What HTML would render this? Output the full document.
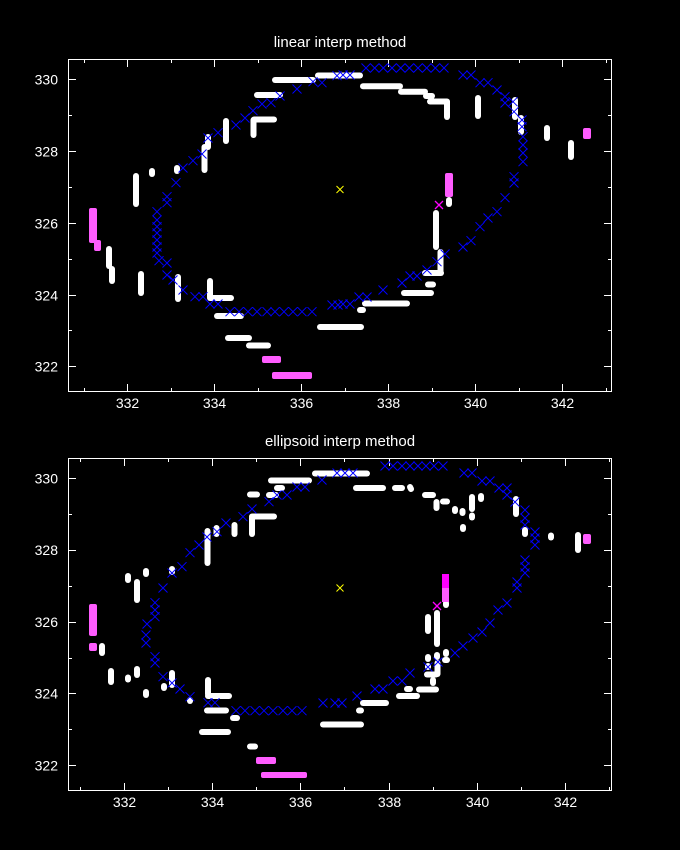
<!DOCTYPE html>
<html><head><meta charset="utf-8"><style>
html,body{margin:0;padding:0;background:#000;}
svg{display:block;}
text{font-family:"Liberation Sans",sans-serif;fill:#fff;}
</style></head><body>
<svg width="680" height="850" viewBox="0 0 680 850" xmlns="http://www.w3.org/2000/svg">
<defs>
<path id="bx" d="M-4.5,-4.5L4.5,4.5M4.5,-4.5L-4.5,4.5" stroke="#0000ff" stroke-width="1" fill="none"/>
<path id="mx" d="M-4,-4L4,4M4,-4L-4,4" stroke="#ff00ff" stroke-width="1.3" fill="none"/>
<path id="yx" d="M-3.5,-3.5L3.5,3.5M3.5,-3.5L-3.5,3.5" stroke="#ffff00" stroke-width="1" fill="none"/>
</defs>
<rect width="680" height="850" fill="#000"/>

<!-- ================= TOP PLOT ================= -->
<text x="340" y="47" font-size="15" text-anchor="middle">linear interp method</text>
<g stroke="#fff" stroke-width="1" fill="none" shape-rendering="crispEdges">
<rect x="68.5" y="59.5" width="543" height="332"/>
<path d="M127.5,391V384M214.5,391V384M301.5,391V384M388.5,391V384M475.5,391V384M562.5,391V384M127.5,60V67M214.5,60V67M301.5,60V67M388.5,60V67M475.5,60V67M562.5,60V67"/>
<path d="M84.5,391V388M171.5,391V388M258.5,391V388M345.5,391V388M432.5,391V388M519.5,391V388M606.5,391V388M84.5,60V63M171.5,60V63M258.5,60V63M345.5,60V63M432.5,60V63M519.5,60V63M606.5,60V63"/>
<path d="M69,79.5H76M69,151.5H76M69,223.5H76M69,295.5H76M69,366.5H76M611,79.5H604M611,151.5H604M611,223.5H604M611,295.5H604M611,366.5H604"/>
<path d="M69,115.5H72M69,187.5H72M69,259.5H72M69,330.5H72M611,115.5H608M611,187.5H608M611,259.5H608M611,330.5H608"/>
</g>
<g font-size="14" text-anchor="end">
<text x="58" y="84.5">330</text><text x="58" y="156.5">328</text><text x="58" y="228.5">326</text><text x="58" y="300.5">324</text><text x="58" y="371.5">322</text>
</g>
<g font-size="14" text-anchor="middle">
<text x="127.5" y="408">332</text><text x="214.5" y="408">334</text><text x="301.5" y="408">336</text><text x="388.5" y="408">338</text><text x="475.5" y="408">340</text><text x="562.5" y="408">342</text>
</g>

<g stroke="#fff" stroke-width="6" stroke-linecap="round" fill="none">
<line x1="275" y1="80" x2="313" y2="80"/>
<line x1="318" y1="75.5" x2="360" y2="75.5"/>
<line x1="363" y1="86.3" x2="400" y2="86.3"/>
<line x1="401" y1="91.8" x2="425" y2="91.8"/>
<line x1="426" y1="96" x2="432" y2="96"/>
<line x1="430" y1="101.5" x2="447" y2="101.5"/>
<line x1="447" y1="102" x2="447" y2="117"/>
<line x1="478" y1="98" x2="478" y2="116"/>
<line x1="515" y1="100" x2="515" y2="117"/>
<line x1="521" y1="118" x2="521" y2="132"/>
<line x1="547" y1="128" x2="547" y2="138"/>
<line x1="571" y1="143" x2="571" y2="157"/>
<line x1="257" y1="95" x2="280" y2="95"/>
<line x1="253.5" y1="120" x2="253.5" y2="135"/>
<line x1="254" y1="119.5" x2="274" y2="119.5"/>
<line x1="226" y1="121" x2="226" y2="141"/>
<line x1="208" y1="137" x2="208" y2="147"/>
<line x1="204.5" y1="147" x2="204.5" y2="170"/>
<line x1="177" y1="168" x2="177" y2="171"/>
<line x1="152" y1="171" x2="152" y2="174"/>
<line x1="136" y1="176" x2="136" y2="204"/>
<line x1="109" y1="249" x2="109" y2="266"/>
<line x1="112" y1="269" x2="112" y2="281"/>
<line x1="141" y1="274" x2="141" y2="293"/>
<line x1="178" y1="277" x2="178" y2="299"/>
<line x1="210" y1="281" x2="210" y2="297"/>
<line x1="210" y1="298" x2="231" y2="298"/>
<line x1="217" y1="316" x2="241" y2="316"/>
<line x1="228" y1="338" x2="249" y2="338"/>
<line x1="249" y1="345.5" x2="268" y2="345.5"/>
<line x1="320" y1="327" x2="361" y2="327"/>
<line x1="436" y1="213" x2="436" y2="247"/>
<line x1="440.5" y1="252" x2="440.5" y2="272"/>
<line x1="425" y1="273" x2="441" y2="273"/>
<line x1="428" y1="284.5" x2="433" y2="284.5"/>
<line x1="404" y1="293" x2="431" y2="293"/>
<line x1="365" y1="303.5" x2="407" y2="303.5"/>
<line x1="360" y1="310" x2="363" y2="310"/>
<line x1="449" y1="200" x2="449" y2="204"/>
</g>
<g fill="#ff5cff">
<rect x="89" y="208" width="8" height="35" rx="2"/>
<rect x="94" y="240" width="7" height="11" rx="2"/>
<rect x="262" y="356" width="19" height="7" rx="2"/>
<rect x="272" y="372" width="40" height="7" rx="2"/>
<rect x="445" y="173" width="8" height="24" rx="2"/>
<rect x="583" y="128" width="8" height="11" rx="2"/>
</g>
<use href="#mx" x="439" y="205"/>
<g>
<use href="#bx" x="313" y="81.7"/><use href="#bx" x="322" y="82.7"/><use href="#bx" x="297" y="89"/><use href="#bx" x="280" y="96"/>
<use href="#bx" x="271" y="102.7"/><use href="#bx" x="262" y="104"/><use href="#bx" x="253" y="110.7"/><use href="#bx" x="245" y="118"/>
<use href="#bx" x="236" y="125"/><use href="#bx" x="218" y="132.7"/><use href="#bx" x="208" y="138"/><use href="#bx" x="202" y="154"/>
<use href="#bx" x="193" y="160.7"/><use href="#bx" x="183" y="168"/><use href="#bx" x="176" y="182.7"/><use href="#bx" x="167" y="196.7"/>
<use href="#bx" x="167" y="202.7"/><use href="#bx" x="157" y="211.7"/><use href="#bx" x="157" y="220"/><use href="#bx" x="157" y="226.7"/>
<use href="#bx" x="157" y="233"/><use href="#bx" x="157" y="240"/><use href="#bx" x="157" y="247"/><use href="#bx" x="157" y="253"/>
<use href="#bx" x="159" y="260.7"/><use href="#bx" x="167" y="263"/><use href="#bx" x="167" y="275"/><use href="#bx" x="173" y="280"/>
<use href="#bx" x="183" y="290"/><use href="#bx" x="195" y="296.7"/><use href="#bx" x="203" y="296.7"/><use href="#bx" x="210" y="304"/>
<use href="#bx" x="218" y="304"/><use href="#bx" x="230" y="311.7"/>
<use href="#bx" x="239" y="311.7"/><use href="#bx" x="248" y="311.7"/><use href="#bx" x="257" y="311.7"/><use href="#bx" x="267" y="311.7"/>
<use href="#bx" x="275" y="311.7"/><use href="#bx" x="284" y="311.7"/><use href="#bx" x="293" y="311.7"/><use href="#bx" x="302" y="311.7"/><use href="#bx" x="312" y="311.7"/>
<use href="#bx" x="332" y="305"/><use href="#bx" x="338" y="305"/><use href="#bx" x="343" y="304"/><use href="#bx" x="350" y="304"/>
<use href="#bx" x="359" y="297"/><use href="#bx" x="367" y="297"/><use href="#bx" x="383" y="290"/><use href="#bx" x="402" y="283"/>
<use href="#bx" x="410" y="276"/><use href="#bx" x="417" y="276"/><use href="#bx" x="427" y="270"/><use href="#bx" x="437" y="261.7"/>
<use href="#bx" x="445" y="254"/><use href="#bx" x="463" y="247"/><use href="#bx" x="471" y="240.7"/><use href="#bx" x="480" y="226.7"/>
<use href="#bx" x="488" y="218"/><use href="#bx" x="497" y="211.7"/><use href="#bx" x="505" y="197.7"/><use href="#bx" x="514" y="183"/>
<use href="#bx" x="514" y="176.7"/><use href="#bx" x="523" y="161.7"/><use href="#bx" x="523" y="153"/><use href="#bx" x="523" y="145"/>
<use href="#bx" x="523" y="136.7"/><use href="#bx" x="522" y="126.7"/><use href="#bx" x="522" y="120"/><use href="#bx" x="514" y="111.7"/>
<use href="#bx" x="513" y="101.7"/><use href="#bx" x="505" y="103"/><use href="#bx" x="505" y="96.7"/><use href="#bx" x="497" y="90"/>
<use href="#bx" x="488" y="82.7"/><use href="#bx" x="480" y="82.7"/><use href="#bx" x="471" y="75"/><use href="#bx" x="463" y="75"/>
<use href="#bx" x="366" y="68"/><use href="#bx" x="374.7" y="68"/><use href="#bx" x="383.3" y="68"/><use href="#bx" x="392" y="68"/>
<use href="#bx" x="400.7" y="68"/><use href="#bx" x="409.3" y="68"/><use href="#bx" x="418" y="68"/><use href="#bx" x="426.7" y="68"/>
<use href="#bx" x="435.3" y="68"/><use href="#bx" x="444" y="68"/>
<use href="#bx" x="350" y="75"/><use href="#bx" x="343" y="75"/><use href="#bx" x="337" y="75.7"/>
</g>
<use href="#yx" x="340" y="189.5"/>

<!-- ================= BOTTOM PLOT ================= -->
<text x="340" y="446" font-size="15" text-anchor="middle">ellipsoid interp method</text>
<g stroke="#fff" stroke-width="1" fill="none" shape-rendering="crispEdges">
<rect x="68.5" y="458.5" width="543" height="332"/>
<path d="M124.5,790V783M212.5,790V783M300.5,790V783M389.5,790V783M477.5,790V783M565.5,790V783M124.5,459V466M212.5,459V466M300.5,459V466M389.5,459V466M477.5,459V466M565.5,459V466"/>
<path d="M80.5,790V787M168.5,790V787M256.5,790V787M344.5,790V787M433.5,790V787M521.5,790V787M609.5,790V787M80.5,459V462M168.5,459V462M256.5,459V462M344.5,459V462M433.5,459V462M521.5,459V462M609.5,459V462"/>
<path d="M69,478.5H76M69,550.5H76M69,622.5H76M69,693.5H76M69,765.5H76M611,478.5H604M611,550.5H604M611,622.5H604M611,693.5H604M611,765.5H604"/>
<path d="M69,514.5H72M69,586.5H72M69,658.5H72M69,729.5H72M611,514.5H608M611,586.5H608M611,658.5H608M611,729.5H608"/>
</g>
<g font-size="14" text-anchor="end">
<text x="58" y="483.5">330</text><text x="58" y="555">328</text><text x="58" y="627">326</text><text x="58" y="698.5">324</text><text x="58" y="770.5">322</text>
</g>
<g font-size="14" text-anchor="middle">
<text x="124.5" y="807">332</text><text x="212.5" y="807">334</text><text x="300.5" y="807">336</text><text x="389.5" y="807">338</text><text x="477.5" y="807">340</text><text x="565.5" y="807">342</text>
</g>

<g stroke="#fff" stroke-width="6" stroke-linecap="round" fill="none">
<line x1="315" y1="473.5" x2="367" y2="473.5"/>
<line x1="271" y1="480.5" x2="309" y2="480.5"/>
<line x1="277" y1="488" x2="282" y2="488"/>
<line x1="250" y1="494.5" x2="257" y2="494.5"/>
<line x1="269" y1="495" x2="276" y2="495"/>
<line x1="252" y1="518" x2="252" y2="534"/>
<line x1="252" y1="516.5" x2="274" y2="516.5"/>
<line x1="234.5" y1="525" x2="234.5" y2="534"/>
<line x1="216.5" y1="528" x2="216.5" y2="534"/>
<line x1="207.5" y1="531" x2="207.5" y2="563"/>
<line x1="172" y1="569" x2="172" y2="572"/>
<line x1="146" y1="571" x2="146" y2="574"/>
<line x1="128" y1="576" x2="128" y2="580"/>
<line x1="137" y1="582" x2="137" y2="600"/>
<line x1="102" y1="646" x2="102" y2="653"/>
<line x1="111" y1="671" x2="111" y2="682"/>
<line x1="128" y1="677.5" x2="128" y2="679.5"/>
<line x1="137" y1="669" x2="137" y2="675"/>
<line x1="146" y1="692" x2="146" y2="695"/>
<line x1="172" y1="673" x2="172" y2="685"/>
<line x1="164" y1="686" x2="164" y2="688"/>
<line x1="190" y1="700" x2="190" y2="701"/>
<line x1="208" y1="680" x2="208" y2="694"/>
<line x1="208" y1="696" x2="229" y2="696"/>
<line x1="207" y1="710.5" x2="226" y2="710.5"/>
<line x1="233" y1="718" x2="237" y2="718"/>
<line x1="202" y1="732" x2="228" y2="732"/>
<line x1="250" y1="746.5" x2="255" y2="746.5"/>
<line x1="323" y1="724.5" x2="361" y2="724.5"/>
<line x1="359" y1="710.5" x2="361" y2="710.5"/>
<line x1="363" y1="703" x2="386" y2="703"/>
<line x1="399" y1="696" x2="417" y2="696"/>
<line x1="407" y1="689" x2="410" y2="689"/>
<line x1="419" y1="689.5" x2="436" y2="689.5"/>
<line x1="433" y1="680" x2="433" y2="683"/>
<line x1="427" y1="674.5" x2="436" y2="674.5"/>
<line x1="437" y1="613" x2="437" y2="644"/>
<line x1="437" y1="655" x2="437" y2="657"/>
<line x1="437.5" y1="663" x2="437.5" y2="674"/>
<line x1="428" y1="617" x2="428" y2="631"/>
<line x1="428" y1="657" x2="428" y2="659"/>
<line x1="428" y1="666" x2="428" y2="667"/>
<line x1="446" y1="652" x2="446" y2="654"/>
<line x1="445" y1="660" x2="447" y2="660"/>
<line x1="446" y1="603" x2="446" y2="605"/>
<line x1="356" y1="488" x2="383" y2="488"/>
<line x1="395" y1="488" x2="402" y2="488"/>
<line x1="410" y1="487" x2="411" y2="489"/>
<line x1="425" y1="495" x2="433" y2="495"/>
<line x1="436.5" y1="502" x2="436.5" y2="508"/>
<line x1="443" y1="501.5" x2="447" y2="501.5"/>
<line x1="472" y1="497" x2="472" y2="509"/>
<line x1="472" y1="515.5" x2="472" y2="517.5"/>
<line x1="481" y1="496" x2="481" y2="499"/>
<line x1="455" y1="509" x2="455" y2="511"/>
<line x1="462.5" y1="511" x2="462.5" y2="513"/>
<line x1="463" y1="527" x2="463" y2="529"/>
<line x1="516" y1="499" x2="516" y2="514"/>
<line x1="525" y1="530" x2="525" y2="534"/>
<line x1="551" y1="535.5" x2="551" y2="537.5"/>
<line x1="578" y1="535" x2="578" y2="550"/>
</g>
<g fill="#ff5cff">
<rect x="89" y="604" width="8" height="32" rx="2"/>
<rect x="89" y="643" width="8" height="8" rx="2"/>
<rect x="256" y="757" width="20" height="7" rx="2"/>
<rect x="261" y="772" width="46" height="6" rx="2"/>
<rect x="583" y="534" width="8" height="10" rx="2"/>
<rect x="442" y="588" width="7" height="14"/>
</g>
<rect x="442" y="574" width="7" height="14" fill="#ff00ff"/>
<use href="#mx" x="437" y="606"/>
<g>
<use href="#bx" x="322" y="480"/><use href="#bx" x="305" y="487"/><use href="#bx" x="297" y="487"/><use href="#bx" x="287" y="495"/>
<use href="#bx" x="277" y="495"/><use href="#bx" x="269" y="501.7"/><use href="#bx" x="252" y="509"/><use href="#bx" x="243" y="516.7"/>
<use href="#bx" x="226" y="523"/><use href="#bx" x="217" y="531.7"/><use href="#bx" x="207" y="537"/><use href="#bx" x="199" y="545"/>
<use href="#bx" x="190" y="552.7"/><use href="#bx" x="182" y="566.7"/><use href="#bx" x="172" y="573"/><use href="#bx" x="163" y="588"/>
<use href="#bx" x="155" y="602.7"/><use href="#bx" x="155" y="610"/><use href="#bx" x="155" y="616.7"/><use href="#bx" x="147" y="624"/>
<use href="#bx" x="146" y="635"/><use href="#bx" x="146" y="643"/><use href="#bx" x="155" y="656.7"/><use href="#bx" x="155" y="663"/>
<use href="#bx" x="163" y="676.7"/><use href="#bx" x="172" y="683"/><use href="#bx" x="180" y="689"/><use href="#bx" x="190" y="696.7"/>
<use href="#bx" x="208" y="702.7"/><use href="#bx" x="215" y="702.7"/>
<use href="#bx" x="236" y="710.7"/><use href="#bx" x="245" y="710.7"/><use href="#bx" x="255" y="710.7"/><use href="#bx" x="264" y="710.7"/>
<use href="#bx" x="273" y="710.7"/><use href="#bx" x="283" y="710.7"/><use href="#bx" x="292" y="710.7"/><use href="#bx" x="302" y="710.7"/>
<use href="#bx" x="323" y="703"/><use href="#bx" x="335" y="703"/><use href="#bx" x="342" y="703"/><use href="#bx" x="357" y="696"/>
<use href="#bx" x="375" y="689"/><use href="#bx" x="383" y="689"/><use href="#bx" x="393" y="681"/><use href="#bx" x="402" y="681"/>
<use href="#bx" x="410" y="673"/><use href="#bx" x="428" y="667"/><use href="#bx" x="438" y="662"/><use href="#bx" x="455" y="653"/>
<use href="#bx" x="463" y="646"/><use href="#bx" x="473" y="638"/><use href="#bx" x="482" y="632"/><use href="#bx" x="490" y="623"/>
<use href="#bx" x="498" y="610"/><use href="#bx" x="507" y="603"/><use href="#bx" x="517" y="588"/><use href="#bx" x="517" y="582"/>
<use href="#bx" x="525" y="573"/><use href="#bx" x="525" y="567"/><use href="#bx" x="525" y="560"/><use href="#bx" x="535" y="545"/>
<use href="#bx" x="535" y="538"/><use href="#bx" x="535" y="532"/><use href="#bx" x="525" y="525"/><use href="#bx" x="525" y="518"/>
<use href="#bx" x="525" y="510"/><use href="#bx" x="515" y="502"/><use href="#bx" x="507" y="495"/><use href="#bx" x="507" y="488"/>
<use href="#bx" x="499" y="488"/><use href="#bx" x="490" y="481"/><use href="#bx" x="482" y="481"/><use href="#bx" x="472" y="473"/>
<use href="#bx" x="464" y="473"/>
<use href="#bx" x="385" y="466"/><use href="#bx" x="393" y="466"/><use href="#bx" x="402" y="466"/><use href="#bx" x="410" y="466"/>
<use href="#bx" x="418" y="466"/><use href="#bx" x="426" y="466"/><use href="#bx" x="434" y="466"/><use href="#bx" x="443" y="466"/>
<use href="#bx" x="353" y="473"/><use href="#bx" x="345" y="473"/><use href="#bx" x="337" y="473"/>
</g>
<use href="#yx" x="340" y="588"/>
</svg>
</body></html>
